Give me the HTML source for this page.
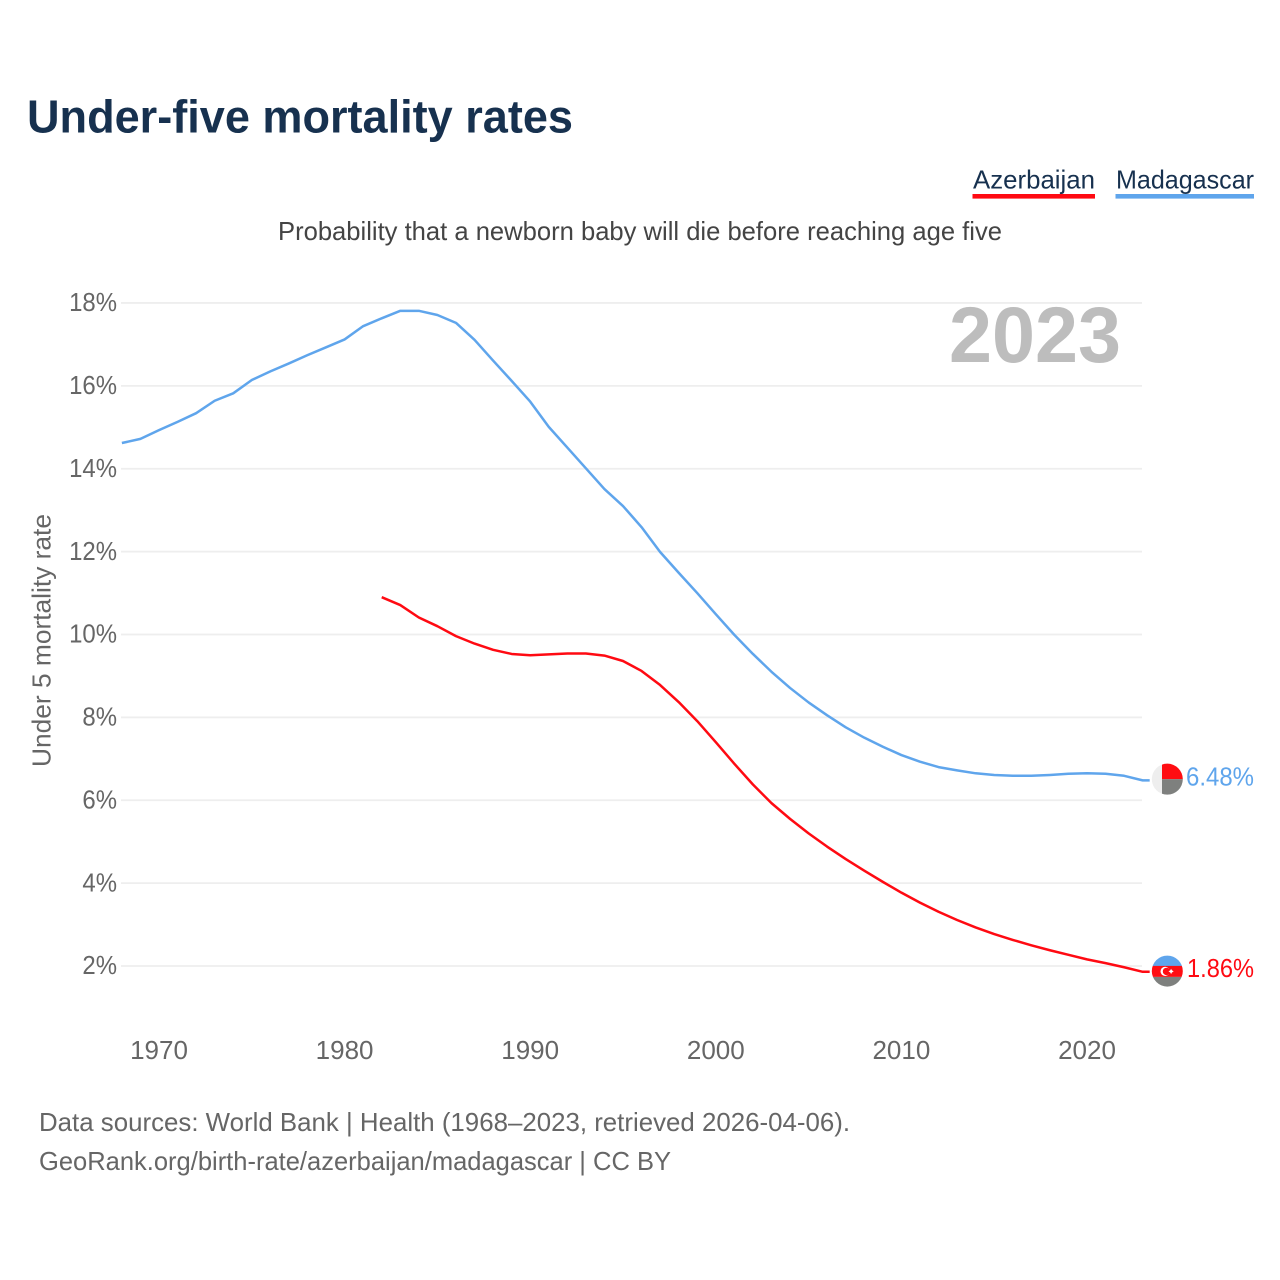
<!DOCTYPE html>
<html lang="en">
<head>
<meta charset="utf-8">
<title>Under-five mortality rates</title>
<style>
html,body{margin:0;padding:0;background:#fff;width:1280px;height:1280px;overflow:hidden}
svg{display:block}
text{font-family:"Liberation Sans",sans-serif}
</style>
</head>
<body>
<svg id="chart" xmlns="http://www.w3.org/2000/svg" width="1280" height="1280" viewBox="0 0 1280 1280">
  <rect x="0" y="0" width="1280" height="1280" fill="#ffffff"/>
  <text x="27" y="132.5" font-size="46" font-weight="700" fill="#17314f" textLength="546" lengthAdjust="spacingAndGlyphs">Under-five mortality rates</text>

  <g>
    <g>
      <text x="973" y="188.5" font-size="26" fill="#17314f" textLength="122" lengthAdjust="spacingAndGlyphs">Azerbaijan</text>
      <rect x="972.5" y="194" width="122.5" height="4.6" fill="#ff0a12"/>
    </g>
    <g>
      <text x="1116" y="188.5" font-size="26" fill="#17314f" textLength="138" lengthAdjust="spacingAndGlyphs">Madagascar</text>
      <rect x="1115.5" y="194" width="138.5" height="4.6" fill="#5fa5ec"/>
    </g>
  </g>

  <text x="278" y="240" font-size="26" fill="#444444" textLength="724" lengthAdjust="spacingAndGlyphs">Probability that a newborn baby will die before reaching age five</text>

  <text transform="translate(50.5 640.5) rotate(-90)" text-anchor="middle" font-size="26" fill="#666666" textLength="253" lengthAdjust="spacingAndGlyphs">Under 5 mortality rate</text>

  <g id="grid-layer"></g>
  <g id="ytick-layer"></g>
  <g id="xtick-layer"></g>

  <text x="1121" y="362" text-anchor="end" font-size="79" font-weight="700" fill="#bdbdbd" textLength="172" lengthAdjust="spacingAndGlyphs">2023</text>

  <g id="series-layer"></g>

  <defs>
    <clipPath id="flag-clip"><circle cx="0" cy="0" r="15.5"/></clipPath>
  </defs>

  <g id="flag-madagascar">
    <g clip-path="url(#flag-clip)">
      <rect x="-16" y="-16" width="32" height="32" fill="#eeeeee"/>
      <rect x="-5.3" y="-16" width="22" height="16" fill="#ff0d12"/>
      <rect x="-5.3" y="0" width="22" height="16" fill="#7e807e"/>
    </g>
  </g>
  <g id="flag-azerbaijan">
    <g clip-path="url(#flag-clip)">
      <rect x="-16" y="-16" width="32" height="11" fill="#5fa5ec"/>
      <rect x="-16" y="-5.2" width="32" height="11" fill="#ff0d12"/>
      <rect x="-16" y="5.8" width="32" height="11" fill="#7e807e"/>
      <circle cx="-2.2" cy="0.3" r="4.6" fill="#ffffff"/>
      <circle cx="-0.8" cy="0.3" r="3.7" fill="#ff0d12"/>
      <polygon points="3.8,-2.4 4.6,-0.8 6.4,0.3 4.6,1.4 3.8,3 3,1.4 1.2,0.3 3,-0.8" fill="#ffffff"/>
    </g>
  </g>

  <g id="value-label-layer"></g>

  <text x="39" y="1131" font-size="26" fill="#666666" textLength="811" lengthAdjust="spacingAndGlyphs">Data sources: World Bank | Health (1968–2023, retrieved 2026-04-06).</text>
  <text x="39" y="1170" font-size="26" fill="#666666" textLength="632" lengthAdjust="spacingAndGlyphs">GeoRank.org/birth-rate/azerbaijan/madagascar | CC BY</text>
</svg>

<script>
const yTickValues = [2, 4, 6, 8, 10, 12, 14, 16, 18];
const xTickYears = [1970, 1980, 1990, 2000, 2010, 2020];

const madagascarStartYear = 1968;
const madagascarValues = [
  14.62, 14.72, 14.93, 15.13, 15.34, 15.64, 15.82, 16.14, 16.35, 16.54,
  16.74, 16.93, 17.12, 17.44, 17.63, 17.81, 17.81, 17.71, 17.52, 17.11,
  16.61, 16.12, 15.62, 15.01, 14.51, 14.01, 13.51, 13.10, 12.59, 11.99,
  11.49, 11.00, 10.49, 9.99, 9.53, 9.10, 8.71, 8.36, 8.05, 7.76,
  7.51, 7.29, 7.09, 6.93, 6.80, 6.72, 6.65, 6.61, 6.59, 6.59,
  6.61, 6.64, 6.65, 6.64, 6.59, 6.48
];

const azerbaijanStartYear = 1982;
const azerbaijanValues = [
  10.90, 10.71, 10.41, 10.20, 9.96, 9.78, 9.63, 9.53, 9.50, 9.52,
  9.54, 9.54, 9.49, 9.36, 9.12, 8.78, 8.37, 7.91, 7.40, 6.88,
  6.38, 5.93, 5.55, 5.20, 4.88, 4.58, 4.30, 4.03, 3.77, 3.53,
  3.31, 3.11, 2.93, 2.77, 2.63, 2.50, 2.38, 2.27, 2.16, 2.07,
  1.97, 1.86
];

const SVG_NS = 'http://www.w3.org/2000/svg';

function xScale(year) {
  return 159 + (year - 1970) * 18.56;
}
function yScale(value) {
  return 966 - (value - 2) * 41.44;
}

const gridLayer = document.getElementById('grid-layer');
const yTickLayer = document.getElementById('ytick-layer');
const xTickLayer = document.getElementById('xtick-layer');
const seriesLayer = document.getElementById('series-layer');
const valueLabelLayer = document.getElementById('value-label-layer');

yTickValues.forEach(function (value) {
  const gridLine = document.createElementNS(SVG_NS, 'line');
  
  
  gridLine.setAttribute('x1', 121);
  gridLine.setAttribute('x2', 1142);
  gridLine.setAttribute('y1', yScale(value));
  gridLine.setAttribute('y2', yScale(value));
  gridLine.setAttribute('stroke', '#eeeeee');
  gridLine.setAttribute('stroke-width', 1.8);
  gridLayer.appendChild(gridLine);

  const tick = document.createElementNS(SVG_NS, 'text');
  
  
  tick.setAttribute('x', 117);
  tick.setAttribute('y', yScale(value) + 8.2);
  tick.setAttribute('text-anchor', 'end');
  tick.setAttribute('font-size', 26);
  tick.setAttribute('fill', '#666666');
  tick.textContent = value + '%';
  yTickLayer.appendChild(tick);
  tick.setAttribute('textLength', (tick.getComputedTextLength() * 0.92).toFixed(1));
  tick.setAttribute('lengthAdjust', 'spacingAndGlyphs');
});

xTickYears.forEach(function (year) {
  const tick = document.createElementNS(SVG_NS, 'text');
  
  
  tick.setAttribute('x', xScale(year));
  tick.setAttribute('y', 1059);
  tick.setAttribute('text-anchor', 'middle');
  tick.setAttribute('font-size', 26);
  tick.setAttribute('fill', '#666666');
  tick.textContent = year;
  xTickLayer.appendChild(tick);
});

function linePoints(startYear, values) {
  const pts = values.map(function (value, i) {
    return xScale(startYear + i).toFixed(2) + ',' + yScale(value).toFixed(2);
  });
  const lastIndex = values.length - 1;
  pts.push((xScale(startYear + lastIndex) + 7).toFixed(2) + ',' + yScale(values[lastIndex]).toFixed(2));
  return pts.join(' ');
}

const madagascarLine = document.createElementNS(SVG_NS, 'polyline');


madagascarLine.setAttribute('points', linePoints(madagascarStartYear, madagascarValues));
madagascarLine.setAttribute('fill', 'none');
madagascarLine.setAttribute('stroke', '#5fa5ec');
madagascarLine.setAttribute('stroke-width', 2.5);
madagascarLine.setAttribute('stroke-linejoin', 'round');
seriesLayer.appendChild(madagascarLine);

const azerbaijanLine = document.createElementNS(SVG_NS, 'polyline');


azerbaijanLine.setAttribute('points', linePoints(azerbaijanStartYear, azerbaijanValues));
azerbaijanLine.setAttribute('fill', 'none');
azerbaijanLine.setAttribute('stroke', '#ff0a12');
azerbaijanLine.setAttribute('stroke-width', 2.5);
azerbaijanLine.setAttribute('stroke-linejoin', 'round');
seriesLayer.appendChild(azerbaijanLine);

const madagascarLast = madagascarValues[madagascarValues.length - 1];
const azerbaijanLast = azerbaijanValues[azerbaijanValues.length - 1];

document.getElementById('flag-madagascar').setAttribute('transform', 'translate(1167.3 ' + (yScale(madagascarLast) - 1.2) + ')');
document.getElementById('flag-azerbaijan').setAttribute('transform', 'translate(1167.3 ' + (yScale(azerbaijanLast) - 0.7) + ')');

const madagascarLabel = document.createElementNS(SVG_NS, 'text');


madagascarLabel.setAttribute('x', 1186);
madagascarLabel.setAttribute('y', yScale(madagascarLast) + 5);
madagascarLabel.setAttribute('font-size', 26);
madagascarLabel.setAttribute('fill', '#5fa5ec');
madagascarLabel.setAttribute('textLength', 68);
madagascarLabel.setAttribute('lengthAdjust', 'spacingAndGlyphs');
madagascarLabel.textContent = madagascarLast.toFixed(2) + '%';
valueLabelLayer.appendChild(madagascarLabel);

const azerbaijanLabel = document.createElementNS(SVG_NS, 'text');


azerbaijanLabel.setAttribute('x', 1187);
azerbaijanLabel.setAttribute('y', yScale(azerbaijanLast) + 5);
azerbaijanLabel.setAttribute('font-size', 26);
azerbaijanLabel.setAttribute('fill', '#ff0a12');
azerbaijanLabel.setAttribute('textLength', 67);
azerbaijanLabel.setAttribute('lengthAdjust', 'spacingAndGlyphs');
azerbaijanLabel.textContent = azerbaijanLast.toFixed(2) + '%';
valueLabelLayer.appendChild(azerbaijanLabel);
</script>
</body>
</html>
